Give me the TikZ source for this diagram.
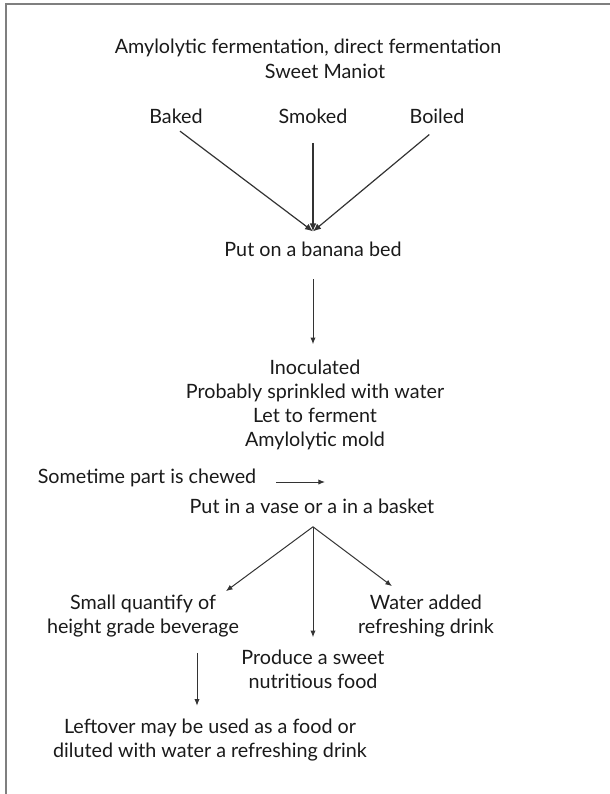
\documentclass[tikz,border=0pt]{standalone}
\usepackage{fontspec}
\setmainfont{Lato}
\usetikzlibrary{arrows.meta}
\definecolor{txt}{HTML}{1A1A1A}
\definecolor{ln}{HTML}{333333}
\definecolor{frame}{HTML}{7F7F7F}
\newcommand\lst{\rule[-3pt]{0pt}{13pt}}
\begin{document}
\begin{tikzpicture}[x=0.75pt,y=-0.75pt,
  lbl/.style={inner sep=0pt, text=txt, align=center,
    font=\fontsize{14.8pt}{18pt}\selectfont},
  conv/.style={draw=ln, line width=0.9pt, -{Latex[length=6pt,width=5pt]}},
  arr/.style={draw=ln, line width=0.75pt, -{Latex[length=5pt,width=4pt]}}]
\useasboundingbox (0,0) rectangle (610,794);
\draw[frame, line width=1.5pt] (6,794) -- (6,3.5) -- (610,3.5);

\node[lbl] (title1) at (308,48.6) {\lst Amylolytic fermentation, direct fermentation};
\node[lbl] (title2) at (325,73.6) {\lst Sweet Maniot};

\node[lbl] (baked)  at (176,118.6) {\lst Baked};
\node[lbl] (smoked) at (313,118.6) {\lst Smoked};
\node[lbl] (boiled) at (437,118.6) {\lst Boiled};
\node[lbl] (bed)    at (313,251.6) {\lst Put on a banana bed};
\coordinate (meet) at ([yshift=8pt]bed.north);
\node[lbl] (inoc)   at (315,405.7) {\lst Inoculated\\\lst Probably sprinkled with water\\\lst Let to ferment\\\lst Amylolytic mold};
\node[lbl] (chewed) at (147,478.6) {\lst Sometime part is chewed};
\coordinate (chewend) at (325,482);
\node[lbl] (vase)   at (312,508.6) {\lst Put in a vase or a in a basket};
\node[lbl] (small)  at (143,616.7) {\lst Small quantify of\\\lst height grade beverage};
\node[lbl] (water)  at (426,616.7) {\lst Water added\\\lst refreshing drink};
\node[lbl] (produce) at (313,671.7) {\lst Produce a sweet\\\lst nutritious food};
\node[lbl] (leftover) at (210,740.2) {\lst Leftover may be used as a food or\\\lst diluted with water a refreshing drink};

\draw[conv, shorten <=3.75pt] (baked.south) -- (meet);
\draw[conv, shorten <=11pt] (smoked.south) -- (meet);
\draw[conv, shorten <=7.5pt] (boiled.south) -- (meet);
\draw[arr, shorten <=13.5pt, shorten >=12pt] (bed.south) -- (bed.south |- inoc.north);
\draw[arr, shorten <=15pt] (chewed.east |- chewend) -- (chewend);

\coordinate (split) at ([yshift=-6.5pt,xshift=0.75pt]vase.south);
\draw[arr] (split) -- ([xshift=-10pt,yshift=3pt]small.north east);
\draw[arr, shorten >=9.75pt] (split) -- (split |- produce.north);
\draw[arr] (split) -- ([xshift=-25.5pt,yshift=6.75pt]water.north);
\draw[arr, shorten <=11pt, shorten >=9.75pt] ([xshift=40.5pt]small.south) -- ([xshift=40.5pt]small.south |- leftover.north);
\end{tikzpicture}
\end{document}
